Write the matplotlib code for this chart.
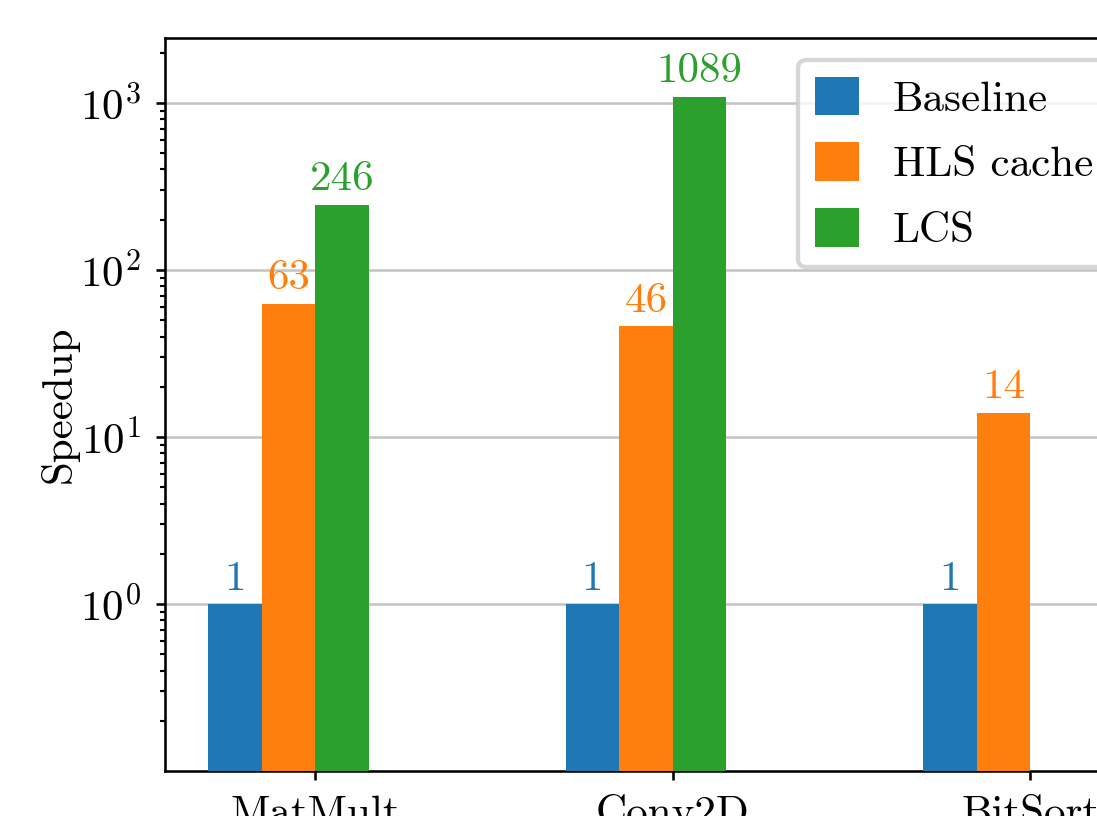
import matplotlib
matplotlib.use("Agg")
import matplotlib.pyplot as plt
import numpy as np

# benchmark speedups
benchmarks = ["MatMult", "Conv2D", "BitSort"]
baseline = [1, 1, 1]
hls_cache = [63, 46, 14]
lcs = [246, 1089, np.nan]
series_names = ["Baseline", "HLS cache", "LCS"]

plt.rcParams["font.family"] = ["cmr10", "DejaVu Serif"]
plt.rcParams["mathtext.fontset"] = "cm"
plt.rcParams["axes.formatter.use_mathtext"] = True
plt.rcParams["font.size"] = 10

fig = plt.figure(figsize=(1097 / 310, 816 / 310), dpi=310)
W, H = 1097.0, 816.0
ax = fig.add_axes([165 / W, (H - 771) / H, (1132 - 165) / W, (771 - 38) / H])

colors = ["tab:blue", "tab:orange", "tab:green"]
x = np.arange(len(benchmarks))
width = 0.15
offsets = [-1.5, -0.5, 0.5]

for vals, name, col, off in zip([baseline, hls_cache, lcs], series_names, colors, offsets):
    vals = np.array(vals, dtype=float)
    ax.bar(x + off * width, vals, width, color=col, label=name, zorder=3)
    for xi, v in zip(x, vals):
        if np.isnan(v):
            continue
        ax.annotate(f"{int(v)}", (xi + off * width, v), xytext=(0, 1.5),
                    textcoords="offset points", ha="center", va="bottom",
                    color=col, fontsize=10)

ax.set_yscale("log")
ax.set_ylim(0.1002, 2450)
ax.set_xlim(-0.42, 2.284)
ax.set_xticks(x)
ax.set_xticklabels(benchmarks)
ax.set_ylabel("Speedup", labelpad=0.3)
ax.yaxis.grid(True, which="major", color="#c4c4c4", linewidth=0.6, zorder=0)
ax.set_axisbelow(True)
ax.tick_params(which="major", length=2.2, width=0.6)
ax.tick_params(which="minor", length=1.1, width=0.5)
for s in ax.spines.values():
    s.set_linewidth(0.6)

ax.legend(loc="upper right", handlelength=1.0, handleheight=1.0, labelspacing=0.55,
          framealpha=0.8, edgecolor="#cccccc", fancybox=True)

fig.savefig("out.png", dpi=310)
